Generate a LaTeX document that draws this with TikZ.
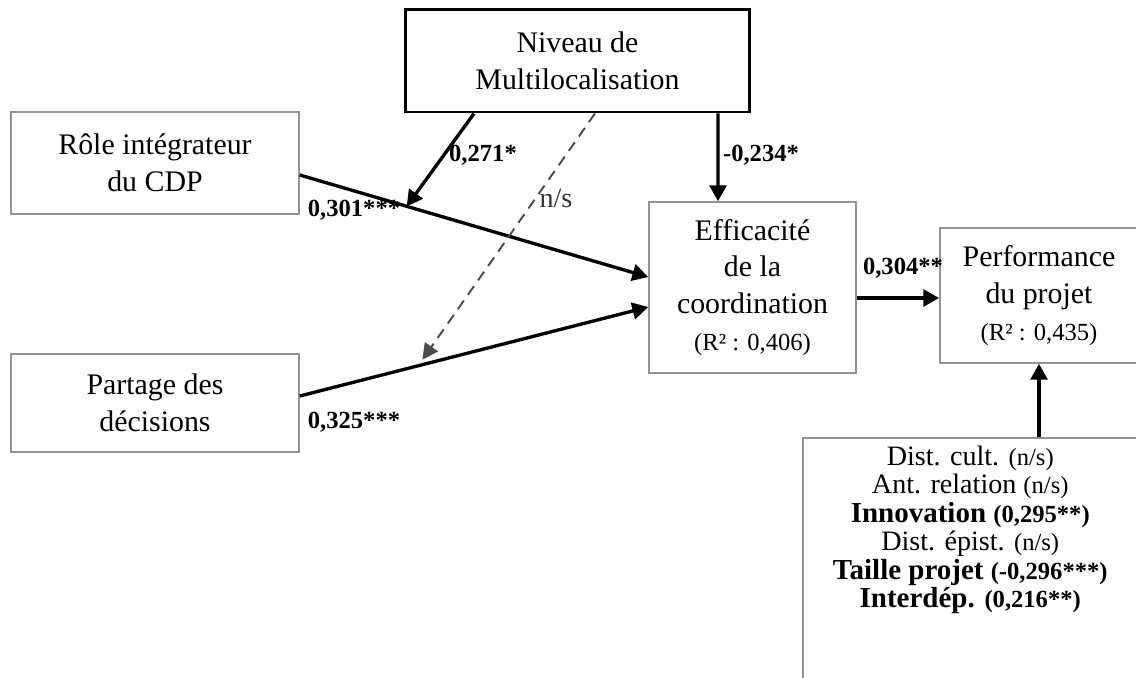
\documentclass[tikz,border=0pt]{standalone}
\usepackage{fontspec}
\setmainfont{Liberation Serif}
\usetikzlibrary{arrows.meta,calc}
\newcommand{\pv}[1]{{\fontsize{14}{16}\selectfont #1}}

\begin{document}
\begin{tikzpicture}[x=0.02cm,y=-0.02cm,
		box/.style={draw=gray!85, line width=0.9pt, align=center, font=\fontsize{17}{21}\selectfont},
		arr/.style={line width=1.9pt, -{Triangle[length=9pt,width=9.5pt]}},
		nsarr/.style={line width=1.1pt, draw=black!70, dash pattern=on 6pt off 4pt, -{Triangle[length=9pt,width=9pt,fill=black!70]}},
		coef/.style={font=\fontsize{14}{16}\selectfont\bfseries}]
		\path[use as bounding box, clip] (0,0) rectangle (1136,677);
		
		\node[box, draw=black, line width=1.7pt, minimum width=6.9cm, minimum height=2.06cm] (niv) at (577.5,60.5) {Niveau de\\Multilocalisation};
		\node[box, minimum width=5.76cm, minimum height=2.04cm] (role) at (155,163) {Rôle intégrateur\\du CDP};
		\node[box, minimum width=5.76cm, minimum height=1.96cm] (partage) at (155,403) {Partage des\\décisions};
		\node[box, minimum width=4.14cm, minimum height=3.42cm] (eff) at (752.5,287.5) {Efficacité\\de la\\coordination\\{\fontsize{14}{17}\selectfont (R² : 0,406)}};
		\node[box, minimum width=3.96cm, minimum height=2.7cm] (perf) at (1039,295.5) {Performance\\du projet\\{\fontsize{14}{17}\selectfont (R² : 0,435)}};
		\node[box, anchor=north west, minimum width=6.7cm, inner ysep=4.5pt, text depth=1.6cm, font=\fontsize{16}{16.2}\selectfont] (ctrl) at (802,437) {Dist. cult. \pv{(n/s)}\\Ant. relation \pv{(n/s)}\\\textbf{\fontsize{16.5}{16.2}\selectfont Innovation \pv{(0,295**)}}\\Dist. épist. \pv{(n/s)}\\\textbf{\fontsize{16.5}{16.2}\selectfont Taille projet \pv{(-0,296***)}}\\\textbf{\fontsize{16.5}{16.2}\selectfont Interdép. \pv{(0,216**)}}};
		
		\coordinate (r1) at ($(role.east)+(0,12)$);
		\coordinate (e1) at ($(eff.west)+(0,-10.5)$);
		\coordinate (p1) at ($(partage.east)+(0,-7)$);
		\coordinate (e2) at ($(eff.west)+(0,19.5)$);
		\coordinate (e3) at ($(eff.east)+(0,10.5)$);
		
		\draw[arr] (r1) -- (e1);
		\draw[arr] (p1) -- (e2);
		\draw[arr] ($(niv.south)+(-103.5,0)$) -- ($(r1)!0.307!(e1)$);
		\draw[nsarr] ($(niv.south)+(17.5,0)$) -- ($(p1)!0.352!(e2)+(0,-5)$);
		\draw[arr] ($(niv.south)+(140.5,0)$) -- ($(eff.north)+(-34.5,0)$);
		\draw[arr] (e3) -- (e3 -| perf.west);
		\draw[arr] (ctrl.north -| perf.south) -- (perf.south);
		
		\node[coef] (c271) at (483,155) {0,271*};
		\node[coef] (c301) at (354,210) {0,301***};
		\node[font=\fontsize{16}{18}\selectfont, text=black!80] (cns) at (556,198) {n/s};
		\node[coef] (c234) at (761,155) {-0,234*};
		\node[coef] (c304) at (903,268) {0,304**};
		\node[coef] (c325) at (354,422) {0,325***};
\end{tikzpicture}
\end{document}
